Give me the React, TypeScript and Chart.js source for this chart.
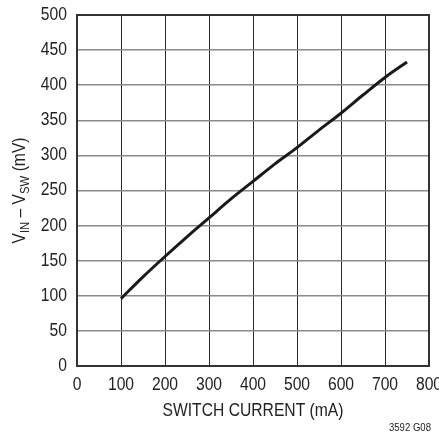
import React, { useEffect, useRef } from "react";
import { Chart, registerables } from "chart.js";

Chart.register(...registerables);

const currentMA = [100, 150, 200, 250, 300, 350, 400, 450, 500, 550, 600, 650, 700, 750];
const dropMV = [96, 127, 156, 184, 211, 238, 263, 288, 311, 336, 360, 386, 411, 433];
const xTitle = "SWITCH CURRENT (mA)";
const yTitleParts: [string, boolean][] = [
  ["V", false],
  ["IN", true],
  [" – V", false],
  ["SW", true],
  [" (mV)", false],
];
const noteText = "3592 G08";

const FONT = "'Liberation Sans', Arial, sans-serif";
const TEXT = "#222";
const K = 0.87; // horizontal condensing to mimic a narrow face

function narrowText(ctx: CanvasRenderingContext2D, t: string, x: number, y: number, align: "left" | "right" | "center") {
  const w = ctx.measureText(t).width * K;
  let sx = x;
  if (align === "center") sx = x - w / 2;
  else if (align === "right") sx = x - w;
  ctx.save();
  ctx.translate(sx, y);
  ctx.scale(K, 1);
  ctx.textAlign = "left";
  ctx.fillText(t, 0, 0);
  ctx.restore();
}

const decorPlugin = {
  id: "decor",
  beforeDatasetsDraw(chart: any) {
    const { ctx, chartArea: a } = chart;
    ctx.save();
    ctx.strokeStyle = "#333";
    ctx.lineWidth = 2;
    ctx.strokeRect(a.left, a.top, a.right - a.left, a.bottom - a.top);
    ctx.restore();
  },
  afterDraw(chart: any) {
    const { ctx, chartArea: a } = chart;
    const xs = chart.scales.x;
    const ys = chart.scales.y;
    ctx.save();
    ctx.fillStyle = TEXT;
    ctx.textBaseline = "middle";
    // tick labels
    ctx.font = `18px ${FONT}`;
    xs.ticks.forEach((t: any) => {
      narrowText(ctx, String(t.value), xs.getPixelForValue(t.value), 385, "center");
    });
    ys.ticks.forEach((t: any) => {
      narrowText(ctx, String(t.value), 67, ys.getPixelForValue(t.value), "right");
    });
    // x title
    ctx.font = `18px ${FONT}`;
    narrowText(ctx, xTitle, (a.left + a.right) / 2, 411, "center");
    // note
    ctx.font = `11px ${FONT}`;
    narrowText(ctx, noteText, 431, 428, "right");
    // y title with subscripts
    const big = `18px ${FONT}`;
    const small = `13px ${FONT}`;
    let total = 0;
    const widths = yTitleParts.map(([t, sub]) => {
      ctx.font = sub ? small : big;
      const w = ctx.measureText(t).width * K;
      total += w;
      return w;
    });
    ctx.translate(19, (a.top + a.bottom) / 2);
    ctx.rotate(-Math.PI / 2);
    ctx.textBaseline = "alphabetic";
    let x = -total / 2;
    const base = 6;
    yTitleParts.forEach(([t, sub], i) => {
      ctx.font = sub ? small : big;
      narrowText(ctx, t, x, sub ? base + 4 : base, "left");
      x += widths[i];
    });
    ctx.restore();
  },
};

export default function App() {
  const ref = useRef<HTMLCanvasElement>(null);
  useEffect(() => {
    document.body.style.margin = "0";
    const chart = new Chart(ref.current!, {
      type: "line",
      data: {
        datasets: [
          {
            data: currentMA.map((x, i) => ({ x, y: dropMV[i] })),
            borderColor: "#1a1a1a",
            borderWidth: 3,
            pointRadius: 0,
            cubicInterpolationMode: "monotone",
            fill: false,
          },
        ],
      },
      options: {
        animation: false,
        responsive: false,
        devicePixelRatio: 1,
        layout: { padding: { top: 15, right: 10, left: 0, bottom: 0 } },
        plugins: { legend: { display: false }, tooltip: { enabled: false } },
        scales: {
          x: {
            type: "linear",
            min: 0,
            max: 800,
            border: { display: false },
            grid: { color: "#2a2a2a", lineWidth: 1, drawTicks: false },
            ticks: {
              stepSize: 100,
              padding: 8,
              color: "rgba(0,0,0,0)",
              font: { family: FONT, size: 18 },
              maxRotation: 0,
              autoSkip: false,
            },
            afterFit: (s: any) => {
              s.height = 68;
              s.paddingLeft = 0;
              s.paddingRight = 0;
            },
          },
          y: {
            min: 0,
            max: 500,
            border: { display: false },
            grid: { color: "#8a8a8a", lineWidth: 1.5, drawTicks: false },
            ticks: {
              stepSize: 50,
              padding: 10,
              color: "rgba(0,0,0,0)",
              font: { family: FONT, size: 18 },
            },
            afterFit: (s: any) => {
              s.width = 77;
              s.paddingTop = 0;
              s.paddingBottom = 0;
            },
          },
        },
      },
      plugins: [decorPlugin],
    });
    return () => chart.destroy();
  }, []);
  return (
    <div style={{ position: "absolute", left: 0, top: 0, width: 439, height: 434 }}>
      <canvas ref={ref} width={439} height={434} />
    </div>
  );
}
